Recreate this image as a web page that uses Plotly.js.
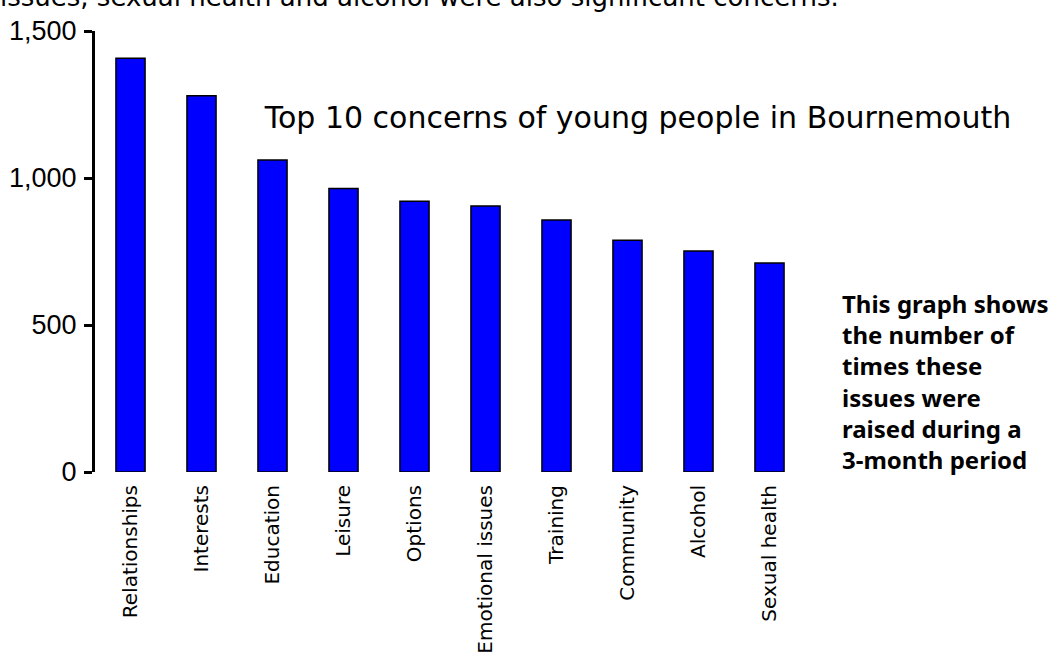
<!DOCTYPE html>
<html>
<head>
<meta charset="utf-8">
<script src="https://cdn.plot.ly/plotly-3.0.1.min.js"></script>
<style>html,body{margin:0;padding:0;background:#fff}#chart{width:1056px;height:659px}</style>
</head>
<body>
<div id="chart"></div>
<script>
const categories = ["Relationships","Interests","Education","Leisure","Options","Emotional issues","Training","Community","Alcohol","Sexual health"];
const counts = [1407, 1280, 1061, 964, 921, 905, 857, 788, 752, 711];
const yTickValues = [0, 500, 1000, 1500];
const yTickLabels = ["0", "500", "1,000", "1,500"];
const chartTitle = "Top 10 concerns of young people in Bournemouth";
const sideNote = "This graph shows<br>the number of<br>times these<br>issues were<br>raised during a<br>3-month period";
const topText = "issues, sexual health and alcohol were also significant concerns.";

const L = 95, T = 31, R = 805, B = 472;
const W = R - L, H = B - T;
const px = x => (x - L) / W;
const py = y => (B - y) / H;

const trace = {
  type: 'bar',
  x: categories,
  y: counts,
  marker: {color: '#0000FF', line: {color: '#000000', width: 1.5}},
  hoverinfo: 'x+y'
};

const layout = {
  width: 1056, height: 659,
  margin: {l: L, r: 1056 - R, t: T, b: 659 - B, pad: 0},
  paper_bgcolor: '#ffffff', plot_bgcolor: '#ffffff',
  showlegend: false,
  bargap: 0.59,
  title: {
    text: chartTitle,
    font: {family: 'DejaVu Sans', size: 30, color: '#000'},
    xref: 'container', yref: 'container',
    x: 638 / 1056, y: 1 - 117 / 659, xanchor: 'center', yanchor: 'middle'
  },
  xaxis: {
    type: 'category',
    range: [-0.5, 9.5],
    showline: false, showgrid: false, zeroline: false, ticks: '',
    tickangle: -90,
    ticklabelstandoff: 8,
    tickfont: {family: 'DejaVu Sans', size: 20, color: '#000'}
  },
  yaxis: {
    range: [0, 1500],
    tickvals: yTickValues, ticktext: yTickLabels,
    showline: true, linecolor: '#000', linewidth: 3,
    ticks: 'outside', ticklen: 8, tickwidth: 3, tickcolor: '#000',
    showgrid: false, zeroline: false,
    ticklabelstandoff: 2,
    tickfont: {family: 'Liberation Sans', size: 27, color: '#000'}
  },
  annotations: [
    {
      text: sideNote, xref: 'paper', yref: 'paper',
      x: px(840), y: py(285), xanchor: 'left', yanchor: 'top', align: 'left',
      showarrow: false,
      font: {family: 'Noto Sans', size: 24, color: '#000', weight: 'bold'}
    },
    {
      text: topText, xref: 'paper', yref: 'paper',
      x: px(-2), y: py(-3), xanchor: 'left', yanchor: 'middle', align: 'left',
      showarrow: false,
      font: {family: 'DejaVu Sans', size: 26, color: '#000'}
    }
  ]
};

Plotly.newPlot('chart', [trace], layout, {displayModeBar: false, staticPlot: true});
</script>
</body>
</html>
